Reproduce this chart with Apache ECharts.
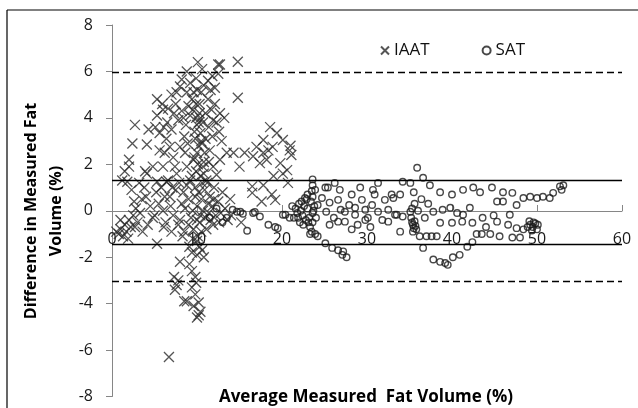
<!DOCTYPE html>
<html>
<head>
<meta charset="utf-8">
<script src="https://cdn.jsdelivr.net/npm/echarts@6/dist/echarts.min.js"></script>
<style>
  html, body { margin: 0; padding: 0; background: #fff; }
  #scatterChart { width: 638px; height: 408px; }
</style>
</head>
<body>
<div id="scatterChart"></div>
<script>
// IAAT 差值点 [平均值, 差值]
var iaatPoints = [
  [0.8,-1.0],[1.0,-0.8],[1.3,-1.1],[1.5,-0.6],[1.7,-0.9],[2.0,-0.4],[2.2,-0.7],[2.5,-0.2],[2.8,0.1],[3.0,-0.5],
  [2.7,-0.7],[3.3,-0.1],[2.6,0.4],[3.5,0.5],[4.2,-0.6],[4.5,0.2],[4.8,-0.3],[1.2,1.3],[1.5,1.7],[1.8,1.25],
  [2.0,2.2],[2.0,1.9],[2.4,2.9],[2.7,3.7],[3.8,1.0],[4.1,2.85],[3.9,1.7],[5.3,-1.42],[6.1,-0.7],[5.2,0.8],
  [5.3,4.8],[6.0,4.35],[6.6,4.4],[8.0,5.35],[8.2,5.65],[8.8,6.0],[10.1,6.4],[11.3,5.6],[12.5,6.3],[12.5,5.9],
  [8.8,5.1],[9.4,4.8],[8.2,4.3],[9.5,4.35],[11.3,4.8],[11.7,4.35],[12.7,4.2],[12.3,3.8],[10.4,3.35],[10.6,2.9],
  [10.0,2.5],[4.3,3.5],[5.1,3.6],[5.6,3.35],[6.4,3.1],[5.3,4.1],[6.8,2.75],[8.0,2.75],[8.6,2.5],[7.2,2.3],
  [6.0,1.9],[4.8,1.9],[4.1,1.6],[5.3,1.25],[6.4,1.25],[7.6,1.6],[8.8,1.9],[10.7,1.9],[11.9,1.9],[11.1,1.3],
  [12.3,1.55],[13.5,2.5],[14.3,2.5],[12.7,2.2],[10.0,3.7],[10.7,3.8],[14.8,6.42],[12.7,6.3],[14.8,4.87],
  [7.0,5.0],[7.5,4.6],[9.0,4.5],[9.2,4.1],[10.3,4.6],[10.0,5.2],[10.8,5.4],[11.6,5.2],[11.9,3.9],[9.8,3.1],
  [10.2,2.8],[11.0,3.1],[11.5,2.6],[9.6,2.2],[7.0,3.5],[7.8,3.9],[6.5,3.8],[8.5,3.2],[6.2,2.5],[5.6,2.6],
  [7.4,1.9],[11.8,3.2],[12.9,3.0],[9.9,5.7],[9.2,5.5],[10.6,6.1],
  [9.9,4.0],[10.3,4.2],[10.5,3.0],[9.7,3.4],[10.9,2.5],[10.1,2.0],[9.4,1.5],[10.6,1.2],[11.3,0.3],[10.0,-0.4],
  [9.0,-0.6],[8.4,0.8],[7.9,1.2],[7.1,1.0],[6.9,0.2],[6.2,0.6],[5.0,-0.2],[4.0,0.6],[3.2,1.2],[2.3,0.9],
  [0.5,-0.9],[1.0,-0.4],[1.9,-1.2],[3.6,-0.9],[8.3,-1.1],[9.5,-1.2],[10.5,-0.9],[11.1,-0.8],[11.6,-0.4],[12.6,-0.5],
  [13.9,0.5],[12.0,0.5],[9.8,0.6],[10.8,1.6],[11.4,2.1],[8.9,2.9],[8.4,4.0],[7.3,4.2],[6.1,3.6],[5.9,4.6],
  [7.6,5.1],[9.6,5.1],[10.5,5.1],[11.0,4.2],[11.4,3.6],[12.6,3.4],[13.2,4.0],[12.1,4.6],[12.1,5.3],[11.8,5.8],
  [10.4,4.0],[9.9,4.6],[10.2,3.8],[8.7,3.7],
  [15.6,2.5],[16.6,2.35],[17.4,2.05],[18.2,2.2],[18.6,3.6],[19.4,3.35],[17.8,3.05],[18.9,2.75],[20.1,3.05],[20.9,2.6],
  [21.1,2.4],[20.6,1.75],[19.8,2.05],[18.4,2.6],[17.0,2.75],[17.8,2.5],[16.5,1.05],[17.8,1.1],[18.8,0.7],[17.6,0.4],
  [19.2,0.47],[20.7,1.2],[16.5,0.77],[20.1,1.6],[21.0,2.8],[15.0,1.9],[19.0,1.5],
  [9.8,1.0],[10.2,0.8],[10.5,0.5],[10.0,0.2],[10.7,0.0],[11.0,-0.3],[10.3,-0.5],[9.6,-0.8],[10.1,-1.1],[11.2,1.2],
  [10.4,1.5],[9.9,1.7],[10.8,2.1],[9.7,2.3],[11.5,0.6],[11.8,0.2],[12.2,-0.2],[12.5,0.4],[11.9,-0.6],[12.8,-0.1],
  [13.3,0.1],[13.6,-0.4],[13.0,0.8],[12.0,1.0],[5.5,0.3],[6.0,0.0],[6.3,-0.5],[6.8,0.6],[7.2,-0.2],[7.5,0.9],
  [7.8,-0.6],[8.2,0.3],[8.5,-0.9],[8.8,1.1],[9.0,0.5],[9.3,-0.3],[5.8,1.0],[6.6,1.3],[7.0,-0.9],[8.0,-0.4],
  [8.6,0.1],[9.2,1.3],[10.4,-0.2],[11.4,-0.1],[10.9,0.9],[9.5,0.0],[14.0,-0.2],[15.2,-0.5],
  [8.0,-2.2],[9.1,-2.3],[9.4,-1.8],[10.0,-1.9],[10.3,-1.55],[9.4,-2.6],[9.8,-2.85],[7.3,-2.85],[7.6,-3.2],[7.4,-3.4],
  [8.5,-3.9],[9.4,-3.3],[9.8,-3.6],[10.2,-3.95],[10.4,-4.35],[10.0,-4.6],[10.2,-4.5],[9.6,-4.1],[8.8,-3.9],[6.7,-6.3],
  [9.1,-1.55],[10.6,-1.7],[10.8,-2.0],[7.8,-3.0],[10.0,-1.3],[9.9,-3.1]
];

// SAT 差值点 [平均值, 差值]
var satPoints = [
  [11.5,-0.3],[12.3,0.1],[13.0,-0.5],[13.5,-0.3],[14.2,0.04],[14.7,-0.04],[15.1,-0.04],[15.4,-0.13],[15.9,-0.86],[16.6,-0.1],
  [16.8,-0.05],[17.4,-0.25],[18.4,-0.6],[19.2,-0.7],[19.5,-0.75],[20.1,-0.17],[20.4,-0.17],[20.9,-0.3],
  [21.2,0.2],[21.4,-0.3],[21.6,0.1],[21.8,-0.1],[22.0,0.3],[22.2,0.0],[22.4,-0.2],[22.6,0.2],[22.7,0.55],[22.8,-0.4],
  [23.0,0.1],[23.2,-0.3],[23.4,0.4],[23.6,-0.1],[23.8,0.2],[22.1,-0.5],[22.9,0.5],[23.3,-0.7],[23.5,-0.9],[23.6,-0.5],
  [23.7,0.0],[23.6,0.6],[23.5,0.85],[23.6,1.1],[23.6,1.35],[23.3,-1.0],[23.9,-1.0],[24.0,-0.3],[23.9,0.9],
  [22.3,0.4],[22.5,-0.6],[23.1,-0.5],[23.0,0.7],[21.9,-0.3],
  [24.2,-1.1],[25.1,-1.4],[25.9,-1.6],[26.6,-1.7],[27.2,-1.75],[27.6,-2.0],[27.1,-1.9],
  [25.1,1.0],[26.2,1.2],[25.4,1.0],
  [24.2,0.25],[24.7,0.55],[25.2,-0.04],[25.6,0.35],[26.1,-0.3],[26.6,0.47],[26.9,0.04],[27.4,-0.47],[27.9,0.25],[28.2,0.7],
  [28.6,-0.17],[28.9,-0.6],[29.4,0.47],[29.8,0.04],[30.1,-0.3],[30.6,0.25],[30.9,0.7],[31.3,-0.04],[31.8,-0.4],[32.1,0.47],
  [32.5,0.04],[32.9,0.7],[33.3,-0.17],[26.8,0.9],[29.2,1.0],[30.7,0.9],[31.3,1.2],[25.6,-0.6],[28.2,-0.8],[30.4,-0.7],
  [32.5,-0.47],[27.4,-0.04],[28.6,0.13],[29.8,-0.4],[26.6,-0.47],
  [33.1,0.55],[33.9,0.7],[34.2,1.25],[35.1,1.2],[35.9,1.85],[36.6,1.42],[37.4,1.1],[33.5,-0.17],[34.2,-0.25],[33.9,-0.9],
  [35.1,-0.04],[35.3,-0.5],[35.4,-0.6],[35.5,-0.75],[35.6,-0.45],[35.7,-0.65],[35.4,-0.9],[35.6,0.3],[35.5,0.8],[36.0,0.0],
  [36.2,-1.1],[36.6,-1.6],[37.0,-1.1],[37.6,-1.1],[38.2,-1.1],[36.4,0.5],[36.8,-0.3],[37.2,0.3],
  [35.2,-0.3],[35.8,-0.8],[35.3,0.1],
  [37.8,-2.1],[38.6,-2.2],[39.2,-2.25],[39.5,-2.33],[40.1,-2.0],[40.9,-1.9],[41.8,-1.55],[42.4,-1.35],[42.9,-1.0],[43.5,-1.0],
  [44.5,-1.0],
  [38.6,0.8],[40.0,0.7],[41.3,0.9],[42.5,1.0],[43.3,0.8],[44.7,1.0],[46.0,0.8],[47.1,0.77],[45.3,0.4],[46.0,0.4],
  [47.6,0.25],[48.4,0.55],[49.2,0.6],[50.0,0.55],[50.7,0.6],[51.5,0.55],[51.9,0.77],[52.7,1.05],[52.9,0.9],[53.1,1.1],
  [37.8,-0.04],[38.9,0.04],[39.8,0.13],[40.6,-0.1],[41.3,-0.17],[42.1,0.13],[38.6,-0.52],[40.0,-0.52],[41.2,-0.47],[42.4,-0.52],
  [43.6,-0.3],[45.3,-0.47],[46.6,-0.6],[46.8,-0.17],
  [49.2,-0.6],[49.5,-0.7],[49.8,-0.55],[50.0,-0.8],[49.4,-0.85],[48.9,-0.7],[50.1,-0.6],[49.6,-0.5],[49.1,-0.45],
  [47.6,-0.75],[48.4,-0.8],[48.0,-1.15],[47.1,-1.15],[45.6,-1.1],[44.0,-0.7],[44.9,-0.2]
];

// 一致性界限（虚线）和均值±SD（实线）
var dashedLimits = [5.95, -3.02];
var solidLimits = [1.33, -1.44];

(function () {
  var dom = document.getElementById("scatterChart");
  var myChart = echarts.init(dom);
  var font = '"Open Sans", Lato, sans-serif';

  var limitLines = [];
  dashedLimits.forEach(function (v) {
    limitLines.push({ yAxis: v, lineStyle: { type: [7, 4], color: '#000', width: 1.3 } });
  });
  solidLimits.forEach(function (v) {
    limitLines.push({ yAxis: v, lineStyle: { type: 'solid', color: '#000', width: 1.3 } });
  });

  var option = {
    animation: false,
    grid: { left: 112, right: 16, top: 25, bottom: 11.5 },
    legend: {
      left: 375,
      top: 37,
      itemWidth: 8,
      itemHeight: 8,
      itemGap: 52,
      textStyle: { color: '#111', fontSize: 17, fontFamily: font },
      data: ['IAAT', 'SAT']
    },
    xAxis: {
      type: 'value',
      min: 0,
      max: 60,
      interval: 10,
      // x轴放在 y=0 处
      offset: -185.5,
      axisLine: { onZero: false, lineStyle: { color: '#868686', width: 1 } },
      axisTick: { inside: true, length: 6, lineStyle: { color: '#868686' } },
      axisLabel: { margin: 20, color: '#1a1a1a', fontSize: 16, fontFamily: font },
      splitLine: { show: false }
    },
    yAxis: {
      type: 'value',
      min: -8,
      max: 8,
      interval: 2,
      axisLine: { show: true, onZero: false, lineStyle: { color: '#868686', width: 1 } },
      axisTick: { show: true, length: 6, lineStyle: { color: '#868686' } },
      axisLabel: { margin: 19, color: '#1a1a1a', fontSize: 16, fontFamily: font },
      splitLine: { show: false }
    },
    graphic: [
      // 外框
      { type: 'line', shape: { x1: 7, y1: 10, x2: 638, y2: 10 }, style: { stroke: '#808080', lineWidth: 2 } },
      { type: 'line', shape: { x1: 7, y1: 10, x2: 7, y2: 408 }, style: { stroke: '#000', lineWidth: 1.2 } },
      {
        type: 'text', x: 44, y: 211, rotation: Math.PI / 2,
        style: {
          text: 'Difference in Measured Fat\nVolume (%)',
          align: 'center', verticalAlign: 'middle', lineHeight: 25,
          font: 'bold 16px ' + font, fill: '#000'
        }
      },
      {
        type: 'text', x: 366, y: 397,
        style: {
          text: 'Average Measured  Fat Volume (%)',
          align: 'center', verticalAlign: 'middle',
          font: 'bold 17px ' + font, fill: '#000'
        }
      }
    ],
    series: [{
      name: 'IAAT',
      type: 'scatter',
      data: iaatPoints,
      symbol: 'path://M0,0L10,10M10,0L0,10',
      symbolSize: 10,
      itemStyle: { color: 'transparent', borderColor: '#2a2a2a', borderWidth: 1.3 },
      markLine: {
        silent: true,
        symbol: ['none', 'none'],
        label: { show: false },
        data: limitLines
      },
      z: 3
    }, {
      name: 'SAT',
      type: 'scatter',
      data: satPoints,
      symbol: 'circle',
      symbolSize: 6.5,
      itemStyle: { color: 'transparent', borderColor: '#1a1a1a', borderWidth: 1.4 },
      z: 4
    }]
  };

  if (option && typeof option === 'object') {
    myChart.setOption(option);
  }
})();
</script>
</body>
</html>
